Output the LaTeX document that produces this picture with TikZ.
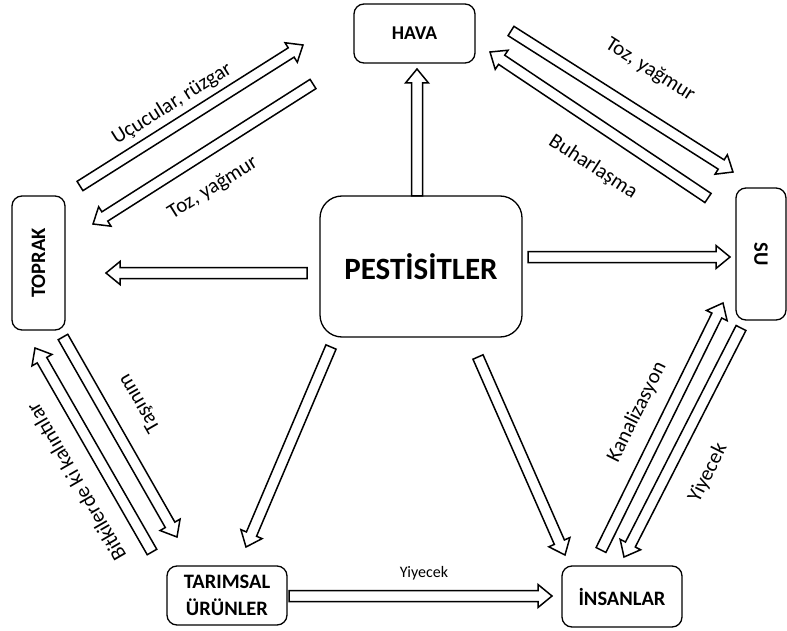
\documentclass[tikz,border=0pt]{standalone}
\usepackage{fontspec}
\setmainfont{Carlito}
\usetikzlibrary{calc}
\newcommand\sw{5.5pt}
\newcommand\hw{11.5pt}
\newcommand\ahl{14pt}
\newcommand\blockarrow[2]{%
  \coordinate (ba-h) at ($(#2)!\ahl!(#1)$);
  \draw[blk] ($(#1)!\sw!90:(#2)$) -- ($(ba-h)!\sw!90:(#2)$) -- ($(ba-h)!\hw!90:(#2)$) -- (#2)
    -- ($(ba-h)!\hw!-90:(#2)$) -- ($(ba-h)!\sw!-90:(#2)$) -- ($(#1)!\sw!-90:(#2)$) -- cycle;}
\begin{document}
\begin{tikzpicture}[x=1pt,y=-1pt,
  box/.style={draw, line width=1.3pt, rounded corners=10pt, align=center, inner sep=0pt,
    font=\fontsize{20.5}{27}\selectfont\bfseries},
  blk/.style={draw, line width=1.5pt, line join=miter, fill=white},
  lbl/.style={font=\fontsize{21}{25}\selectfont, inner sep=0pt}]
\useasboundingbox (0,0) rectangle (787,631);
% nodes
\node[box, minimum width=121pt, minimum height=59pt, font=\fontsize{19.5}{24}\selectfont\bfseries] (hava) at (414.5,33.5) {HAVA};
\node[box, minimum width=202pt, minimum height=141pt, rounded corners=22pt,
  font=\fontsize{31}{36}\selectfont\bfseries] (pest) at (421,266.5) {PESTİSİTLER};
\node[box, minimum width=134pt, minimum height=53pt, rotate=90] (toprak) at (38.5,263) {TOPRAK};
\node[box, minimum width=132pt, minimum height=50pt, rotate=-90] (su) at (761,254) {SU};
\node[box, minimum width=120pt, minimum height=59pt] (tarim) at (227,595.5) {TARIMSAL\\ÜRÜNLER};
\node[box, minimum width=120pt, minimum height=61pt] (insan) at (622,596.5) {İNSANLAR};
% arrow end points
\coordinate (p1a) at (417,196);  \coordinate (p1b) at (417,69);
\coordinate (p2a) at (307,273);  \coordinate (p2b) at (106,273);
\coordinate (p3a) at (528,257);  \coordinate (p3b) at (730,257);
\coordinate (p4a) at (80,186);   \coordinate (p4b) at (303,45);
\coordinate (p5a) at (313,84);   \coordinate (p5b) at (93,224);
\coordinate (p6a) at (511,31);   \coordinate (p6b) at (733,172);
\coordinate (p7a) at (708,198);  \coordinate (p7b) at (490,52);
\coordinate (p8a) at (63,337);   \coordinate (p8b) at (177,537);
\coordinate (p9a) at (152,552);  \coordinate (p9b) at (35,348);
\coordinate (p10a) at (331,347); \coordinate (p10b) at (246,547);
\coordinate (p11a) at (478,357); \coordinate (p11b) at (565,555);
\coordinate (p12a) at (289,596); \coordinate (p12b) at (552,596);
\coordinate (p13a) at (601,550); \coordinate (p13b) at (723,303);
\coordinate (p14a) at (741,328); \coordinate (p14b) at (624,557);
% arrows
\blockarrow{p1a}{p1b}
\blockarrow{p2a}{p2b}
\blockarrow{p3a}{p3b}
\blockarrow{p4a}{p4b}
\blockarrow{p5a}{p5b}
\blockarrow{p6a}{p6b}
\blockarrow{p7a}{p7b}
\blockarrow{p8a}{p8b}
\blockarrow{p9a}{p9b}
\blockarrow{p10a}{p10b}
\blockarrow{p11a}{p11b}
\blockarrow{p12a}{p12b}
\blockarrow{p13a}{p13b}
\blockarrow{p14a}{p14b}
% labels
\node[lbl, rotate=32] (l1) at (172,104) {Uçucular, rüzgar};
\node[lbl, rotate=32] (l2) at (213,188) {Toz, yağmur};
\node[lbl, rotate=-32.5] (l3) at (650,70) {Toz, yağmur};
\node[lbl, rotate=-33] (l4) at (593,167) {Buharlaşma};
\node[lbl, rotate=120] (l5) at (140,403) {Taşınım};
\node[lbl, rotate=120] (l6) at (76,482) {Bitkilerde ki kalıntılar};
\node[lbl, rotate=63.5] (l7) at (637,412) {Kanalizasyon};
\node[lbl, rotate=63.5] (l8) at (708,473) {Yiyecek};
\node[lbl, font=\fontsize{16}{19}\selectfont] (l9) at (424,573) {Yiyecek};
\end{tikzpicture}
\end{document}
